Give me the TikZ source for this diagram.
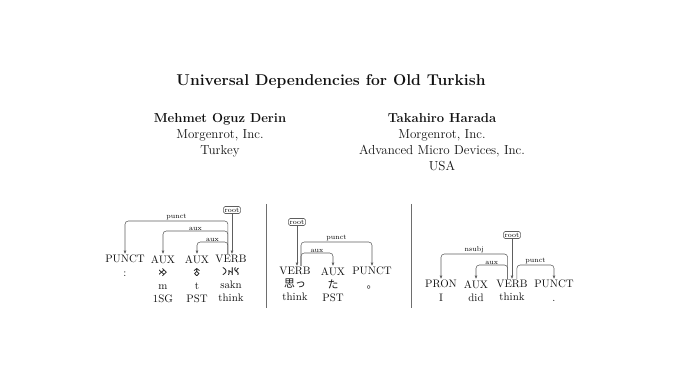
\documentclass[tikz,border=0pt]{standalone}
\usepackage{fontspec}
\usetikzlibrary{positioning,arrows.meta,calc}
\TeXXeTstate=1
\newfontfamily\cjk{Noto Sans CJK JP}
\IfFontExistsTF{Noto Sans Old Turkic}{\newfontfamily\oturk{Noto Sans Old Turkic}}{\newfontfamily\oturk{DejaVu Sans}}
\definecolor{ink}{HTML}{111111}
\definecolor{arc}{HTML}{5E5E5E}
\definecolor{rule}{HTML}{6E6E6E}
\tikzset{
  ttl/.style={font=\fontsize{14.4}{17}\selectfont\bfseries, text=ink, anchor=base, inner sep=0pt},
  auth/.style={font=\fontsize{12}{14.5}\selectfont\bfseries, text=ink, anchor=base, inner sep=0pt},
  affil/.style={font=\fontsize{12}{14.5}\selectfont, text=ink, anchor=base, inner sep=0pt},
  tok/.style={font=\fontsize{10}{12}\selectfont, text=ink, align=center, anchor=north, inner sep=1pt},
  rootbox/.style={draw=arc, line width=0.5pt, rounded corners=1.5pt, fill=white,
                  font=\fontsize{6.5}{7}\selectfont, inner sep=1.2pt},
  dep/.style={-{Latex[length=3pt,width=2.6pt]}, line width=0.5pt, draw=arc, rounded corners=3pt},
  lbl/.style={font=\fontsize{6.5}{7}\selectfont, anchor=south, inner sep=0.6pt},
  sep/.style={draw=rule, line width=0.6pt},
}

\begin{document}
\begin{tikzpicture}[x=0.92pt, y=-0.92pt]
\useasboundingbox (0,0) rectangle (680,383);
% title and authors
\node[ttl] (title) at (331,86) {Universal Dependencies for Old Turkish};
\node[auth]  (a1name) at (220,123) {Mehmet Oguz Derin};
\node[affil] (a1org)  at (220,139) {Morgenrot, Inc.};
\node[affil] (a1ctry) at (220,155) {Turkey};
\node[auth]  (a2name) at (442,123) {Takahiro Harada};
\node[affil] (a2org)  at (442,139) {Morgenrot, Inc.};
\node[affil] (a2amd)  at (442,155) {Advanced Micro Devices, Inc.};
\node[affil] (a2ctry) at (442,171) {USA};
% diagram 1 (Old Turkish)
\node[tok] (t1) at (125,254) {PUNCT\\:};
\node[tok] (t2) at (163,254) {AUX\\{\oturk 𐰢}\\m\\1SG};
\node[tok] (t3) at (197,254) {AUX\\{\oturk 𐱃}\\t\\PST};
\node[tok] (v1) at (231,254) {VERB\\{\oturk\beginR 𐰽𐰴𐰣\endR}\\sakn\\think};
\node[rootbox] (r1) at (232,210) {root};
\draw[dep] (r1.south) -- (r1.south |- v1.north);
\draw[dep] ([xshift=-2.8pt]v1.north) -- ++(0,-33) -| node[lbl, pos=0.25] {punct} (t1.north);
\draw[dep] ([xshift=-2.8pt]v1.north) -- ++(0,-23) -| node[lbl, pos=0.25] {aux} (t2.north);
\draw[dep] ([xshift=-2.8pt]v1.north) -- ++(0,-12) -| node[lbl, pos=0.25] {aux} (t3.north);
% diagram 2 (Japanese)
\node[tok] (v2) at (295,266) {VERB\\{\cjk 思っ}\\think};
\node[tok] (a2) at (333,266) {AUX\\{\cjk た}\\PST};
\node[tok] (p2) at (372,266) {PUNCT\\{\cjk 。}};
\node[rootbox] (r2) at (297,222) {root};
\draw[dep] (r2.south) -- (r2.south |- v2.north);
\draw[dep] ([xshift=5.5pt]v2.north) -- ++(0,-24) -| node[lbl, pos=0.25] {punct} (p2.north);
\draw[dep] ([xshift=5.5pt]v2.north) -- ++(0,-13) -| node[lbl, pos=0.25] {aux} (a2.north);
% diagram 3 (English)
\node[tok] (n3) at (441,279) {PRON\\I};
\node[tok] (a3) at (476,279) {AUX\\did};
\node[tok] (v3) at (512,279) {VERB\\think};
\node[tok] (p3) at (554,279) {PUNCT\\.};
\node[rootbox] (r3) at (512,235) {root};
\draw[dep] (r3.south) -- (r3.south |- v3.north);
\draw[dep] ([xshift=-4pt]v3.north) -- ++(0,-25) -| node[lbl, pos=0.25] {nsubj} (n3.north);
\draw[dep] ([xshift=-4pt]v3.north) -- ++(0,-14) -| node[lbl, pos=0.25] {aux} (a3.north);
\draw[dep] ([xshift=4.5pt]v3.north) -- ++(0,-14) -| node[lbl, pos=0.25] {punct} (p3.north);
% separators
\draw[sep] (266,204) -- (266,308);
\draw[sep] (411,204) -- (411,308);
\end{tikzpicture}
\end{document}
